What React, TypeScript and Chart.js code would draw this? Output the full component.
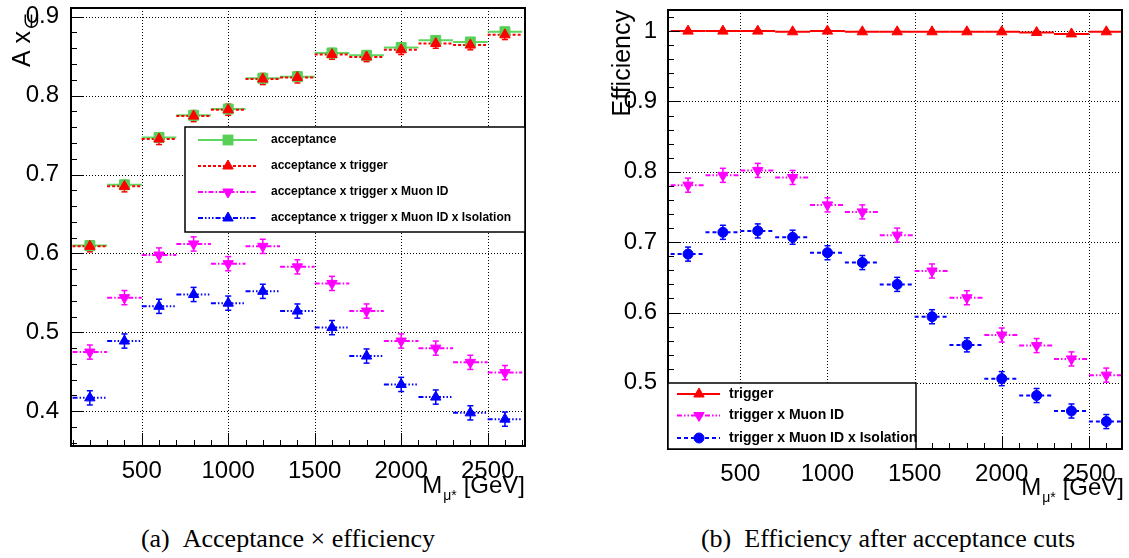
import React, { useEffect, useRef } from 'react';
import { Chart, registerables } from 'chart.js';

Chart.register(...registerables);

// ---------------- data ----------------
const masses = [200, 400, 600, 800, 1000, 1200, 1400, 1600, 1800, 2000, 2200, 2400, 2600];
const binHalfWidth = 100;
const xTickValues = [500, 1000, 1500, 2000, 2500];
const xMinorStep = 100;
const yMinorStep = 0.02;

// (a) acceptance x efficiency
const acceptance = [0.610, 0.687, 0.747, 0.775, 0.783, 0.822, 0.824, 0.854, 0.851, 0.861, 0.870, 0.868, 0.881];
const acceptanceErr = [0.006, 0.006, 0.006, 0.006, 0.006, 0.006, 0.006, 0.006, 0.006, 0.005, 0.005, 0.005, 0.005];
const accTrigger = [0.609, 0.685, 0.745, 0.774, 0.782, 0.821, 0.823, 0.852, 0.849, 0.858, 0.866, 0.864, 0.877];
const accTriggerErr = [0.007, 0.007, 0.007, 0.007, 0.007, 0.007, 0.007, 0.006, 0.006, 0.006, 0.006, 0.006, 0.006];
const accTrigMuon = [0.475, 0.544, 0.598, 0.612, 0.587, 0.609, 0.583, 0.562, 0.527, 0.489, 0.480, 0.462, 0.449];
const accTrigMuonErr = [0.009, 0.009, 0.009, 0.009, 0.009, 0.009, 0.009, 0.009, 0.009, 0.009, 0.009, 0.009, 0.009];
const accTrigMuonIso = [0.417, 0.489, 0.533, 0.548, 0.537, 0.552, 0.527, 0.506, 0.470, 0.434, 0.418, 0.398, 0.390];
const accTrigMuonIsoErr = [0.009, 0.009, 0.009, 0.009, 0.009, 0.009, 0.009, 0.009, 0.009, 0.009, 0.009, 0.009, 0.009];
const yTicksA = [0.4, 0.5, 0.6, 0.7, 0.8, 0.9];

// (b) efficiency after acceptance cuts
const trigger = [1.000, 1.000, 1.000, 0.999, 1.000, 0.999, 0.999, 0.999, 0.999, 0.999, 0.998, 0.996, 0.999];
const triggerErr = [0.002, 0.002, 0.002, 0.002, 0.002, 0.002, 0.002, 0.002, 0.002, 0.002, 0.002, 0.002, 0.002];
const trigMuon = [0.781, 0.795, 0.802, 0.792, 0.753, 0.743, 0.710, 0.659, 0.621, 0.568, 0.553, 0.534, 0.511];
const trigMuonErr = [0.010, 0.010, 0.010, 0.010, 0.010, 0.010, 0.010, 0.010, 0.010, 0.010, 0.010, 0.010, 0.010];
const trigMuonIso = [0.683, 0.714, 0.716, 0.707, 0.685, 0.671, 0.640, 0.594, 0.554, 0.506, 0.482, 0.460, 0.445];
const trigMuonIsoErr = [0.010, 0.010, 0.010, 0.010, 0.010, 0.010, 0.010, 0.010, 0.010, 0.010, 0.010, 0.010, 0.010];
const yTicksB = [0.5, 0.6, 0.7, 0.8, 0.9, 1.0];

// ---------------- styles ----------------
type Marker = 'rect' | 'triangle' | 'circle';
type Series = {
  label: string;
  values: number[];
  errors: number[];
  color: string;
  markerColor: string;
  dash: number[];
  marker: Marker;
  rotation: number;
  radius: number;
};

const GREEN_LINE = '#5fd65f';
const GREEN_MARK = '#58d058';
const RED = '#ff0000';
const MAGENTA = '#ff00ff';
const BLUE = '#0000ff';

const seriesA: Series[] = [
  { label: 'acceptance', values: acceptance, errors: acceptanceErr, color: GREEN_LINE, markerColor: GREEN_MARK, dash: [], marker: 'rect', rotation: 0, radius: 7 },
  { label: 'acceptance x trigger', values: accTrigger, errors: accTriggerErr, color: RED, markerColor: RED, dash: [3, 2], marker: 'triangle', rotation: 0, radius: 6 },
  { label: 'acceptance x trigger x Muon ID', values: accTrigMuon, errors: accTrigMuonErr, color: MAGENTA, markerColor: MAGENTA, dash: [5, 2, 1.5, 2], marker: 'triangle', rotation: 180, radius: 6 },
  { label: 'acceptance x trigger x Muon ID x Isolation', values: accTrigMuonIso, errors: accTrigMuonIsoErr, color: BLUE, markerColor: BLUE, dash: [5, 2, 1.5, 2, 1.5, 2, 1.5, 2], marker: 'triangle', rotation: 0, radius: 6 },
];

const seriesB: Series[] = [
  { label: 'trigger', values: trigger, errors: triggerErr, color: RED, markerColor: RED, dash: [], marker: 'triangle', rotation: 0, radius: 6 },
  { label: 'trigger x Muon ID', values: trigMuon, errors: trigMuonErr, color: MAGENTA, markerColor: MAGENTA, dash: [5, 2, 1.5, 2, 1.5, 2], marker: 'triangle', rotation: 180, radius: 6 },
  { label: 'trigger x Muon ID x Isolation', values: trigMuonIso, errors: trigMuonIsoErr, color: BLUE, markerColor: BLUE, dash: [4, 3], marker: 'circle', rotation: 0, radius: 5 },
];

type Panel = {
  key: string;
  left: number;
  width: number;
  height: number;
  area: { left: number; top: number; right: number; bottom: number };
  xMin: number;
  xMax: number;
  yMin: number;
  yMax: number;
  yTicks: number[];
  yLabelPad: number;
  xLabelPad: number;
  series: Series[];
  legend: { box: number[]; rows: number[]; line: number[]; marker: number; text: number; font: string };
  xTitle: { right: number; baseline: number };
  drawYTitle: (ctx: CanvasRenderingContext2D) => void;
};

const SANS = '"Liberation Sans", Arial, Helvetica, sans-serif';

const panelA: Panel = {
  key: 'a',
  left: 0,
  width: 560,
  height: 520,
  area: { left: 71, top: 7, right: 525, bottom: 446 },
  xMin: 91,
  xMax: 2716,
  yMin: 0.356,
  yMax: 0.911,
  yTicks: yTicksA,
  yLabelPad: 4,
  xLabelPad: 3,
  series: seriesA,
  legend: { box: [185, 127, 525, 232], rows: [140, 166, 192, 218], line: [198, 257], marker: 228, text: 271, font: 'bold 12px ' + SANS },
  xTitle: { right: 525, baseline: 493 },
  drawYTitle: (ctx) => {
    ctx.save();
    ctx.translate(30, 0);
    ctx.rotate(-Math.PI / 2);
    ctx.fillStyle = '#000';
    ctx.textBaseline = 'alphabetic';
    ctx.textAlign = 'right';
    ctx.font = '25px ' + SANS;
    ctx.fillText('A x', -31, 0);
    ctx.font = '19px "DejaVu Sans", sans-serif';
    ctx.fillText('∈', -13, 8);
    ctx.restore();
  },
};

const panelB: Panel = {
  key: 'b',
  left: 560,
  width: 569,
  height: 520,
  area: { left: 108, top: 10, right: 564, bottom: 449 },
  xMin: 85,
  xMax: 2690,
  yMin: 0.406,
  yMax: 1.03,
  yTicks: yTicksB,
  yLabelPad: 3,
  xLabelPad: 3,
  series: seriesB,
  legend: { box: [108, 383, 356, 449], rows: [394, 415.5, 438], line: [117, 160], marker: 139, text: 169, font: 'bold 14px ' + SANS },
  xTitle: { right: 564, baseline: 495 },
  drawYTitle: (ctx) => {
    ctx.save();
    ctx.translate(70, 0);
    ctx.rotate(-Math.PI / 2);
    ctx.fillStyle = '#000';
    ctx.textBaseline = 'alphabetic';
    ctx.textAlign = 'right';
    ctx.font = '25px ' + SANS;
    ctx.fillText('Efficiency', -10, 0);
    ctx.restore();
  },
};

// ---------------- drawing helpers ----------------
function line(ctx: CanvasRenderingContext2D, x1: number, y1: number, x2: number, y2: number) {
  ctx.beginPath();
  ctx.moveTo(x1, y1);
  ctx.lineTo(x2, y2);
  ctx.stroke();
}

function drawMarker(ctx: CanvasRenderingContext2D, s: Series, x: number, y: number) {
  ctx.save();
  ctx.fillStyle = s.markerColor;
  ctx.strokeStyle = s.markerColor;
  ctx.lineWidth = 1;
  ctx.setLineDash([]);
  ctx.beginPath();
  const r = s.radius;
  if (s.marker === 'rect') {
    const h = Math.SQRT1_2 * r;
    ctx.rect(x - h, y - h, 2 * h, 2 * h);
  } else if (s.marker === 'circle') {
    ctx.arc(x, y, r, 0, Math.PI * 2);
  } else {
    let rad = (s.rotation * Math.PI) / 180;
    ctx.moveTo(x + Math.sin(rad) * r, y - Math.cos(rad) * r);
    rad += (2 * Math.PI) / 3;
    ctx.lineTo(x + Math.sin(rad) * r, y - Math.cos(rad) * r);
    rad += (2 * Math.PI) / 3;
    ctx.lineTo(x + Math.sin(rad) * r, y - Math.cos(rad) * r);
    ctx.closePath();
  }
  ctx.fill();
  ctx.stroke();
  ctx.restore();
}

function makePlugin(p: Panel) {
  return {
    id: 'rootStyle_' + p.key,
    beforeDatasetsDraw(chart: any) {
      const { ctx, chartArea: a } = chart;
      const xs = chart.scales.x;
      const ys = chart.scales.y;
      ctx.save();
      // dotted grid
      ctx.strokeStyle = '#000';
      ctx.lineWidth = 1;
      ctx.setLineDash([1, 2]);
      for (const t of xs.ticks) {
        const px = Math.round(xs.getPixelForValue(t.value)) + 0.5;
        if (px <= a.left + 1 || px >= a.right - 1) continue;
        line(ctx, px, a.top, px, a.bottom);
      }
      for (const t of ys.ticks) {
        const py = Math.round(ys.getPixelForValue(t.value)) + 0.5;
        if (py <= a.top + 1 || py >= a.bottom - 1) continue;
        line(ctx, a.left, py, a.right, py);
      }
      // error bars
      ctx.beginPath();
      ctx.rect(a.left, a.top, a.right - a.left, a.bottom - a.top);
      ctx.clip();
      p.series.forEach((s) => {
        masses.forEach((m, i) => {
          const v = s.values[i];
          const e = s.errors[i];
          const px = xs.getPixelForValue(m);
          const py = ys.getPixelForValue(v);
          const x1 = xs.getPixelForValue(m - binHalfWidth);
          const x2 = xs.getPixelForValue(m + binHalfWidth);
          ctx.strokeStyle = s.color;
          ctx.lineWidth = 2;
          ctx.setLineDash(s.dash);
          line(ctx, x1, py, x2, py);
          ctx.setLineDash([]);
          ctx.lineWidth = 1.5;
          const yt = ys.getPixelForValue(v + e);
          const yb = ys.getPixelForValue(v - e);
          line(ctx, px, yt, px, yb);
          line(ctx, px - 3, yt, px + 3, yt);
          line(ctx, px - 3, yb, px + 3, yb);
        });
      });
      ctx.restore();
    },
    afterDatasetsDraw(chart: any) {
      const { ctx, chartArea: a } = chart;
      const xs = chart.scales.x;
      const ys = chart.scales.y;
      ctx.save();
      ctx.setLineDash([]);
      ctx.strokeStyle = '#000';
      ctx.lineWidth = 1;
      // inner ticks, x
      const kx0 = Math.ceil(p.xMin / xMinorStep);
      const kx1 = Math.floor(p.xMax / xMinorStep);
      for (let k = kx0; k <= kx1; k++) {
        const v = k * xMinorStep;
        const px = Math.round(xs.getPixelForValue(v)) + 0.5;
        const major = xTickValues.includes(v);
        line(ctx, px, a.bottom, px, a.bottom - (major ? 13 : 6));
      }
      // inner ticks, y
      const ky0 = Math.ceil(p.yMin / yMinorStep - 1e-6);
      const ky1 = Math.floor(p.yMax / yMinorStep + 1e-6);
      for (let k = ky0; k <= ky1; k++) {
        const v = k * yMinorStep;
        const py = Math.round(ys.getPixelForValue(v)) + 0.5;
        const major = p.yTicks.some((t) => Math.abs(t - v) < 1e-6);
        line(ctx, a.left, py, a.left + (major ? 12 : 6), py);
      }
      // frame
      ctx.lineWidth = 2;
      ctx.strokeRect(a.left, a.top, a.right - a.left, a.bottom - a.top);

      // legend
      const lg = p.legend;
      const [bx1, by1, bx2, by2] = lg.box;
      ctx.fillStyle = '#fff';
      ctx.fillRect(bx1, by1, bx2 - bx1, by2 - by1);
      ctx.strokeStyle = '#000';
      ctx.lineWidth = 1.5;
      ctx.strokeRect(bx1, by1, bx2 - bx1, by2 - by1);
      p.series.forEach((s, i) => {
        const y = lg.rows[i];
        ctx.strokeStyle = s.color;
        ctx.lineWidth = 2;
        ctx.setLineDash(s.dash);
        line(ctx, lg.line[0], y, lg.line[1], y);
        ctx.setLineDash([]);
        drawMarker(ctx, s, lg.marker, y);
        ctx.fillStyle = '#000';
        ctx.font = lg.font;
        ctx.textAlign = 'left';
        ctx.textBaseline = 'middle';
        ctx.fillText(s.label, lg.text, y);
      });

      // x title: M_{mu*} [GeV]
      ctx.fillStyle = '#000';
      ctx.textBaseline = 'alphabetic';
      ctx.textAlign = 'left';
      ctx.font = '24px ' + SANS;
      const gev = '[GeV]';
      const wG = ctx.measureText(gev).width;
      const xG = p.xTitle.right - wG;
      ctx.fillText(gev, xG, p.xTitle.baseline);
      ctx.font = '14px ' + SANS;
      const sub = 'μ*';
      const wS = ctx.measureText(sub).width;
      const xS = xG - 7 - wS;
      ctx.fillText(sub, xS, p.xTitle.baseline + 7);
      ctx.font = '24px ' + SANS;
      const wM = ctx.measureText('M').width;
      ctx.fillText('M', xS - 1 - wM, p.xTitle.baseline);

      ctx.restore();
      p.drawYTitle(ctx);
    },
  };
}

function PanelChart({ p }: { p: Panel }) {
  const ref = useRef<HTMLCanvasElement>(null);
  useEffect(() => {
    const canvas = ref.current;
    if (!canvas) return;
    const n = p.series.length;
    const chart = new Chart(canvas, {
      type: 'scatter',
      data: {
        datasets: p.series.map((s, i) => ({
          label: s.label,
          data: masses.map((m, j) => ({ x: m, y: s.values[j] })),
          showLine: false,
          order: n - i,
          pointStyle: s.marker,
          pointRotation: s.rotation,
          pointRadius: s.radius,
          pointBorderWidth: 1,
          backgroundColor: s.markerColor,
          borderColor: s.markerColor,
        })),
      },
      options: {
        responsive: false,
        animation: false,
        devicePixelRatio: 1,
        events: [],
        layout: { padding: { left: 0, top: p.area.top, right: p.width - p.area.right, bottom: 0 } },
        plugins: { legend: { display: false }, tooltip: { enabled: false } },
        scales: {
          x: {
            type: 'linear',
            position: 'bottom',
            min: p.xMin,
            max: p.xMax,
            afterBuildTicks: (s: any) => {
              s.ticks = xTickValues.map((v) => ({ value: v }));
            },
            afterFit: (s: any) => {
              s.height = p.height - p.area.bottom;
              s.paddingLeft = 0;
              s.paddingRight = 0;
            },
            ticks: {
              color: '#000',
              font: { family: SANS, size: 24 },
              padding: p.xLabelPad,
              maxRotation: 0,
              autoSkip: false,
              callback: (v: any) => String(v),
            },
            grid: { display: false },
            border: { display: false },
          },
          y: {
            type: 'linear',
            min: p.yMin,
            max: p.yMax,
            afterBuildTicks: (s: any) => {
              s.ticks = p.yTicks.map((v) => ({ value: v }));
            },
            afterFit: (s: any) => {
              s.width = p.area.left;
              s.paddingTop = 0;
              s.paddingBottom = 0;
            },
            ticks: {
              color: '#000',
              font: { family: SANS, size: 24 },
              padding: p.yLabelPad,
              autoSkip: false,
              callback: (v: any) => String(+Number(v).toFixed(2)),
            },
            grid: { display: false },
            border: { display: false },
          },
        },
      },
      plugins: [makePlugin(p)],
    } as any);
    return () => chart.destroy();
  }, [p]);
  return (
    <div style={{ position: 'absolute', left: p.left, top: 0, width: p.width, height: p.height }}>
      <canvas ref={ref} width={p.width} height={p.height} style={{ width: p.width, height: p.height, display: 'block' }} />
    </div>
  );
}

const captionStyle: React.CSSProperties = {
  position: 'absolute',
  top: 524,
  width: 576,
  textAlign: 'center',
  fontFamily: '"Liberation Serif", "Times New Roman", serif',
  fontSize: 26,
  lineHeight: '30px',
  color: '#000',
  whiteSpace: 'nowrap',
};

export default function App() {
  return (
    <div style={{ position: 'absolute', left: 0, top: 0, width: 1129, height: 558, background: '#fff', overflow: 'hidden' }}>
      <PanelChart p={panelA} />
      <PanelChart p={panelB} />
      <div style={{ ...captionStyle, left: 0 }}>(a)&nbsp;&nbsp;Acceptance × efficiency</div>
      <div style={{ ...captionStyle, left: 600 }}>(b)&nbsp;&nbsp;Efficiency after acceptance cuts</div>
    </div>
  );
}
